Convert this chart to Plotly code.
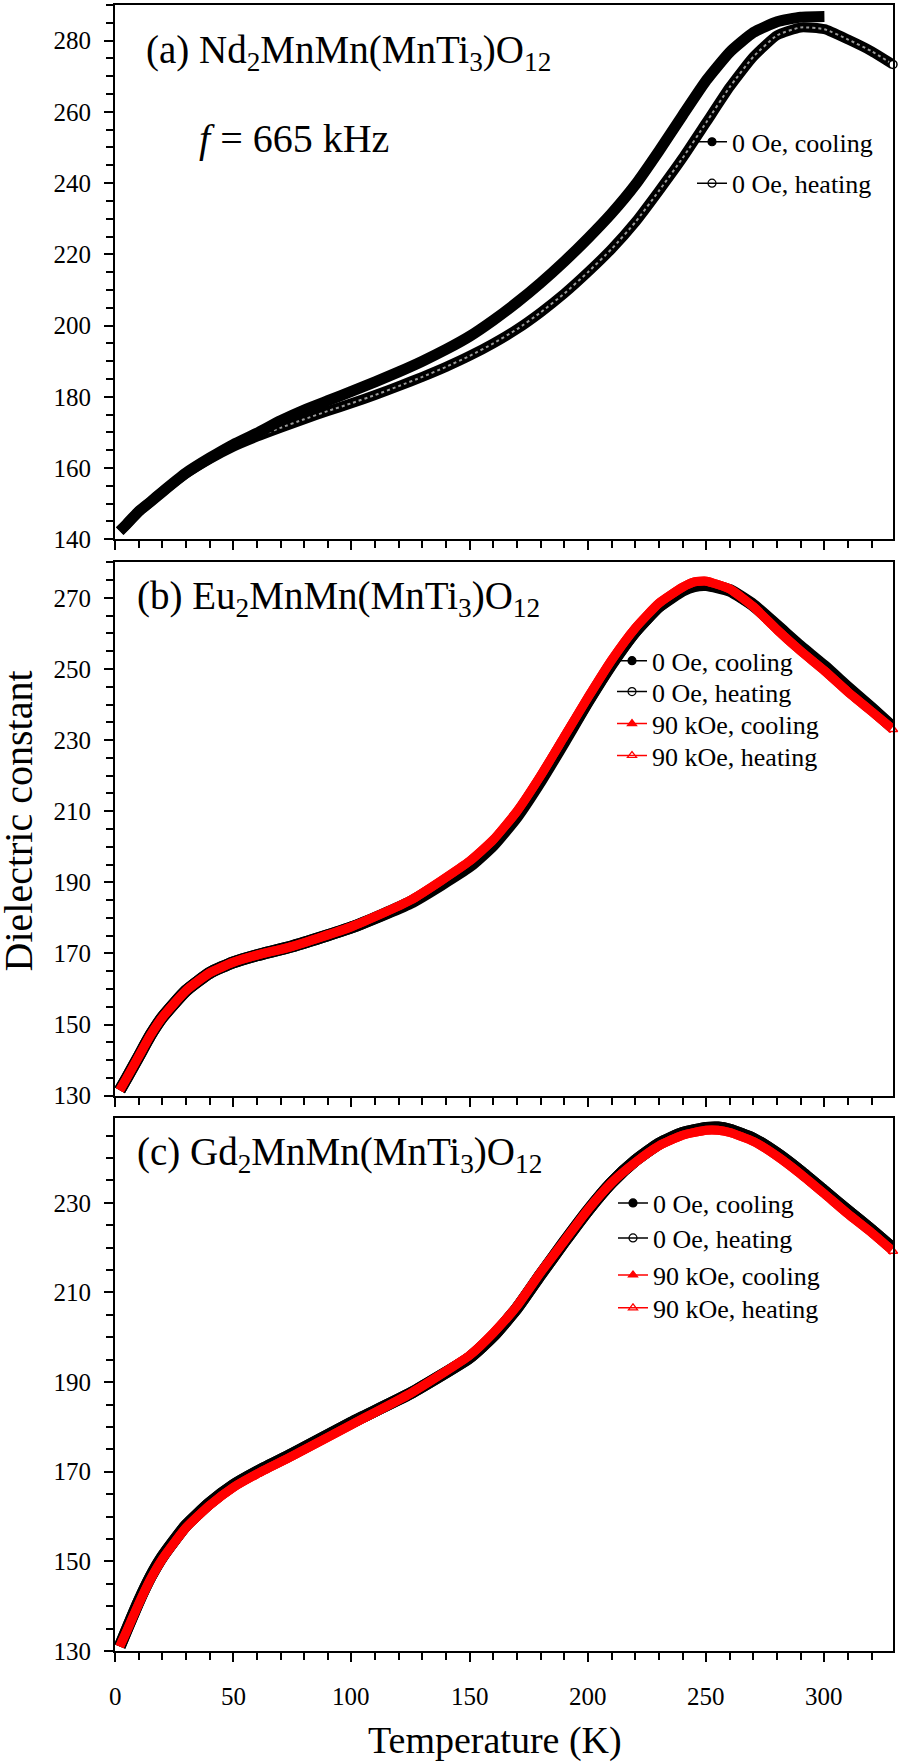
import plotly.graph_objects as go

FONT = "Liberation Serif, Times New Roman, serif"

# ---------------- Panel (a): Nd2MnMn(MnTi3)O12 ----------------
T_a_cool = [2, 5, 10, 15, 20, 30, 40, 50, 60, 70, 80, 90, 100, 110, 120, 130, 140, 150, 160, 170,
            180, 190, 200, 210, 220, 230, 240, 250, 260, 270, 280, 290, 300]
eps_a_cool = [142.3, 144.3, 147.8, 150.5, 153.3, 158.6, 162.8, 166.6, 169.8, 173.3, 176.3, 178.9, 181.5,
              184.2, 187.0, 190.0, 193.3, 197.0, 201.5, 206.5, 212.0, 218.0, 224.5, 231.5, 239.5, 249.0,
              259.0, 268.8, 276.8, 282.3, 285.3, 286.6, 286.8]
T_a_heat = [2, 5, 10, 15, 20, 30, 40, 50, 60, 70, 80, 90, 100, 110, 120, 130, 140, 150, 160, 170,
            180, 190, 200, 210, 220, 230, 240, 250, 260, 270, 280, 290, 300, 310, 320, 329]
eps_a_heat = [142.3, 144.3, 147.8, 150.5, 153.3, 158.4, 162.5, 166.0, 168.8, 171.3, 173.7, 176.0, 178.2,
              180.5, 183.0, 185.6, 188.4, 191.5, 195.0, 199.0, 203.7, 209.0, 215.0, 221.5, 229.0, 237.8,
              247.0, 257.0, 267.0, 275.5, 281.5, 283.7, 283.2, 280.3, 277.0, 273.3]

# ---------------- Panel (b): Eu2MnMn(MnTi3)O12 ----------------
T_b = [2, 5, 10, 15, 20, 30, 40, 50, 60, 75, 100, 125, 150, 160, 170, 180, 190, 200, 210, 220,
       230, 240, 245, 250, 260, 270, 280, 290, 300, 310, 320, 329]
eps_b_0_cool = [131.5, 135.0, 141.0, 147.0, 152.0, 159.5, 164.5, 167.5, 169.5, 172.0, 177.3, 184.5,
                195.0, 201.0, 209.0, 219.0, 230.0, 241.0, 251.5, 260.5, 267.5, 272.0, 273.3, 273.6,
                272.0, 267.8, 262.0, 256.0, 250.5, 244.5, 238.8, 233.5]
eps_b_0_heat = [131.5, 135.0, 141.0, 147.0, 152.0, 159.5, 164.5, 167.5, 169.5, 172.0, 177.3, 184.2,
                194.5, 200.5, 208.5, 218.5, 229.5, 240.8, 251.3, 260.5, 267.6, 272.3, 273.6, 273.8,
                272.2, 268.0, 262.2, 256.3, 250.8, 244.8, 239.0, 233.6]
eps_b_90_cool = [131.5, 135.0, 141.0, 147.0, 152.0, 159.5, 164.5, 167.5, 169.5, 172.0, 177.5, 185.0,
                 196.0, 202.0, 210.0, 220.0, 231.0, 242.0, 252.5, 261.5, 268.5, 273.0, 274.5, 274.7,
                 272.5, 267.5, 261.0, 255.0, 249.5, 243.5, 238.0, 233.0]
eps_b_90_heat = [131.5, 135.0, 141.0, 147.0, 152.0, 159.5, 164.5, 167.5, 169.5, 172.0, 177.5, 185.0,
                 196.0, 202.0, 210.0, 220.0, 231.0, 242.0, 252.5, 261.5, 268.5, 273.0, 274.5, 274.7,
                 272.5, 267.5, 261.0, 255.0, 249.5, 243.5, 238.0, 233.0]

# ---------------- Panel (c): Gd2MnMn(MnTi3)O12 ----------------
T_c = [2, 5, 10, 15, 20, 30, 40, 50, 60, 75, 100, 125, 150, 160, 170, 180, 190, 200, 210, 220,
       230, 240, 250, 255, 260, 270, 280, 290, 300, 310, 320, 329]
eps_c_0_cool = [131.0, 134.8, 141.0, 146.5, 151.0, 158.0, 163.0, 167.0, 170.0, 174.0, 181.0, 187.5,
                195.5, 200.3, 206.5, 214.0, 221.3, 228.3, 234.5, 239.4, 243.2, 245.6, 246.7, 246.8,
                246.3, 244.3, 241.0, 237.0, 232.6, 228.2, 223.9, 219.8]
eps_c_0_heat = [131.0, 134.8, 141.0, 146.5, 151.0, 158.0, 163.0, 167.0, 170.0, 174.0, 181.0, 187.5,
                195.5, 200.3, 206.5, 214.0, 221.3, 228.3, 234.5, 239.4, 243.2, 245.6, 246.7, 246.8,
                246.3, 244.3, 241.0, 237.0, 232.6, 228.2, 223.9, 219.8]
eps_c_90_cool = [131.0, 134.5, 140.5, 146.0, 150.5, 157.5, 162.5, 166.5, 169.5, 173.5, 180.5, 187.5,
                 196.0, 201.0, 207.0, 214.5, 221.5, 228.5, 234.5, 239.0, 242.7, 245.1, 246.2, 246.2,
                 245.7, 243.7, 240.4, 236.4, 232.0, 227.5, 223.3, 219.2]
eps_c_90_heat = [131.0, 134.5, 140.5, 146.0, 150.5, 157.5, 162.5, 166.5, 169.5, 173.5, 180.5, 187.5,
                 196.0, 201.0, 207.0, 214.5, 221.5, 228.5, 234.5, 239.0, 242.7, 245.1, 246.2, 246.2,
                 245.7, 243.7, 240.4, 236.4, 232.0, 227.5, 223.3, 219.2]

x_ticks = [0, 50, 100, 150, 200, 250, 300]
y_ticks_a = [140, 160, 180, 200, 220, 240, 260, 280]
y_ticks_b = [130, 150, 170, 190, 210, 230, 250, 270]
y_ticks_c = [130, 150, 170, 190, 210, 230]

fig = go.Figure()


def curve(x, y, xa, ya, color, width):
    fig.add_trace(go.Scatter(x=x, y=y, xaxis=xa, yaxis=ya, mode="lines",
                             line=dict(color=color, width=width, shape="spline", smoothing=0.5),
                             showlegend=False, hoverinfo="skip"))


def end_marker(x, y, xa, ya, symbol, color):
    fig.add_trace(go.Scatter(x=[x[-1]], y=[y[-1]], xaxis=xa, yaxis=ya, mode="markers",
                             marker=dict(symbol=symbol, size=8, color="white",
                                         line=dict(color=color, width=1.5)),
                             cliponaxis=False, showlegend=False, hoverinfo="skip"))


def legend_entry(name, color, symbol, lg, xa, ya):
    fig.add_trace(go.Scatter(x=[None], y=[None], xaxis=xa, yaxis=ya, mode="lines+markers",
                             name=name, legend=lg,
                             line=dict(color=color, width=1.5),
                             marker=dict(symbol=symbol, size=8, color=color,
                                         line=dict(color=color, width=1.2))))


# panel (a)
curve(T_a_heat, eps_a_heat, "x", "y", "black", 10)
fig.add_trace(go.Scatter(x=T_a_heat, y=eps_a_heat, xaxis="x", yaxis="y", mode="lines",
                         line=dict(color="#9a9a9a", width=2, dash="dot", shape="spline", smoothing=0.5),
                         showlegend=False, hoverinfo="skip"))
curve(T_a_cool, eps_a_cool, "x", "y", "black", 11)
end_marker(T_a_heat, eps_a_heat, "x", "y", "circle", "black")
legend_entry("0 Oe, cooling", "black", "circle", "legend", "x", "y")
legend_entry("0 Oe, heating", "black", "circle-open", "legend2", "x", "y")

# panel (b)
curve(T_b, eps_b_0_cool, "x2", "y2", "black", 12)
curve(T_b, eps_b_0_heat, "x2", "y2", "black", 12)
curve(T_b, eps_b_90_cool, "x2", "y2", "#ff0000", 9)
curve(T_b, eps_b_90_heat, "x2", "y2", "#ff0000", 9)
end_marker(T_b, eps_b_90_heat, "x2", "y2", "triangle-up", "#ff0000")
legend_entry("0 Oe, cooling", "black", "circle", "legend3", "x2", "y2")
legend_entry("0 Oe, heating", "black", "circle-open", "legend4", "x2", "y2")
legend_entry("90 kOe, cooling", "#ff0000", "triangle-up", "legend5", "x2", "y2")
legend_entry("90 kOe, heating", "#ff0000", "triangle-up-open", "legend6", "x2", "y2")

# panel (c)
curve(T_c, eps_c_0_cool, "x3", "y3", "black", 12)
curve(T_c, eps_c_0_heat, "x3", "y3", "black", 12)
curve(T_c, eps_c_90_cool, "x3", "y3", "#ff0000", 9)
curve(T_c, eps_c_90_heat, "x3", "y3", "#ff0000", 9)
end_marker(T_c, eps_c_90_heat, "x3", "y3", "triangle-up", "#ff0000")
legend_entry("0 Oe, cooling", "black", "circle", "legend7", "x3", "y3")
legend_entry("0 Oe, heating", "black", "circle-open", "legend8", "x3", "y3")
legend_entry("90 kOe, cooling", "#ff0000", "triangle-up", "legend9", "x3", "y3")
legend_entry("90 kOe, heating", "#ff0000", "triangle-up-open", "legend10", "x3", "y3")

tickfont = dict(family=FONT, size=25, color="black")
common = dict(showline=True, linecolor="black", linewidth=2, mirror=True, ticks="outside",
              ticklen=9, tickwidth=1.5, tickcolor="black", showgrid=False, zeroline=False,
              tickfont=tickfont)


def xaxis(anchor):
    return dict(common, anchor=anchor, range=[0, 329], domain=[0, 1], tickmode="array", tickvals=x_ticks,
                showticklabels=False,
                minor=dict(ticks="outside", ticklen=7, tickwidth=1.5, tickcolor="black", dtick=10, tick0=0))


def yaxis(anchor, rng, dom, tv):
    return dict(common, anchor=anchor, range=rng, domain=dom, tickmode="array", tickvals=tv,
                ticklabelstandoff=8,
                minor=dict(ticks="outside", ticklen=7, tickwidth=1.5, tickcolor="black", dtick=5, tick0=130))


PLOT_BOTTOM = 1651.0
PLOT_H = 1648.0
PLOT_L = 115.0
PLOT_W = 778.0


def leg(text_left_px, top_px):
    return dict(font=dict(family=FONT, size=26, color="black"), bgcolor="rgba(0,0,0,0)",
                xanchor="left", yanchor="top", itemclick=False, itemdoubleclick=False,
                x=(text_left_px - 38 - PLOT_L) / PLOT_W, y=(PLOT_BOTTOM - top_px) / PLOT_H)


fig.update_layout(
    width=900, height=1764,
    margin=dict(l=115, r=7, t=3, b=113),
    paper_bgcolor="white", plot_bgcolor="white",
    font=dict(family=FONT, color="black"),
    xaxis=xaxis("y"),
    yaxis=yaxis("x", [140, 290], [0.6754, 1.0], y_ticks_a),
    xaxis2=xaxis("y2"),
    yaxis2=yaxis("x2", [130, 280], [0.3374, 0.6614], y_ticks_b),
    xaxis3=xaxis("y3"),
    yaxis3=yaxis("x3", [130, 249], [0.0, 0.3240], y_ticks_c),
    legend=leg(730, 116.5), legend2=leg(730, 158),
    legend3=leg(650, 636), legend4=leg(650, 667), legend5=leg(650, 699), legend6=leg(650, 731),
    legend7=leg(651, 1179), legend8=leg(651, 1214), legend9=leg(651, 1251), legend10=leg(651, 1284),
    showlegend=True,
)

title_font = dict(family=FONT, size=39, color="black")
ann = [
    dict(text="(a) Nd<sub>2</sub>MnMn(MnTi<sub>3</sub>)O<sub>12</sub>", xref="x domain", yref="y domain",
         x=0.037, y=0.912, xanchor="left", yanchor="middle", showarrow=False, font=title_font),
    dict(text="<i>f</i> = 665 kHz", xref="x domain", yref="y domain",
         x=0.105, y=0.751, xanchor="left", yanchor="middle", showarrow=False,
         font=dict(family=FONT, size=40, color="black")),
    dict(text="(b) Eu<sub>2</sub>MnMn(MnTi<sub>3</sub>)O<sub>12</sub>", xref="x2 domain", yref="y2 domain",
         x=0.026, y=0.933, xanchor="left", yanchor="middle", showarrow=False, font=title_font),
    dict(text="(c) Gd<sub>2</sub>MnMn(MnTi<sub>3</sub>)O<sub>12</sub>", xref="x3 domain", yref="y3 domain",
         x=0.026, y=0.931, xanchor="left", yanchor="middle", showarrow=False, font=title_font),
    dict(text="Dielectric constant", xref="paper", yref="paper", x=-0.1246, y=0.504,
         xanchor="center", yanchor="middle", textangle=-90, showarrow=False,
         font=dict(family=FONT, size=40, color="black")),
    dict(text="Temperature (K)", xref="paper", yref="paper", x=0.488, y=-0.0686,
         xanchor="center", yanchor="bottom", showarrow=False,
         font=dict(family=FONT, size=38, color="black")),
]
# x tick labels of the bottom axis, placed at the tick values through the x3 scale
for t in x_ticks:
    ann.append(dict(text=str(t), xref="x3", yref="paper", x=t, y=-0.0279,
                    xanchor="center", yanchor="middle", showarrow=False, font=tickfont))
fig.update_layout(annotations=ann)

fig.write_html("out.html", config={"displayModeBar": False},
               post_script="document.body.style.margin='0';")
